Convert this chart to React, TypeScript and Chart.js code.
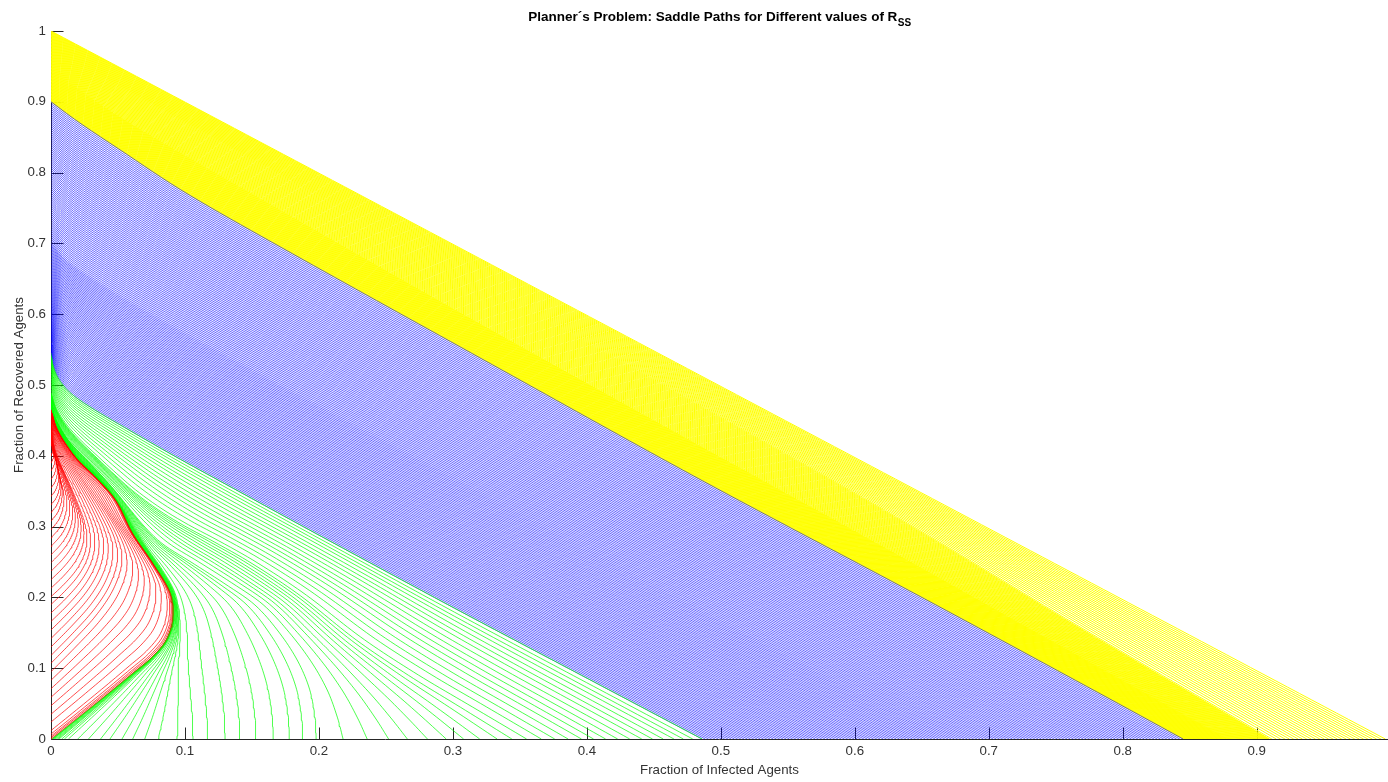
import React, { useEffect, useRef } from "react";
import { Chart, registerables } from "chart.js";

Chart.register(...registerables);

type Pt = [number, number];

// ---------------- texts ----------------
const TITLE_MAIN = "Planner´s Problem: Saddle Paths for Different values of R";
const TITLE_SUB = "SS";
const X_LABEL = "Fraction of Infected Agents";
const Y_LABEL = "Fraction of Recovered Agents";

// ---------------- axes ----------------
const X_TICKS = [0, 0.1, 0.2, 0.3, 0.4, 0.5, 0.6, 0.7, 0.8, 0.9];
const Y_TICKS = [0, 0.1, 0.2, 0.3, 0.4, 0.5, 0.6, 0.7, 0.8, 0.9, 1];
const X_MAX = 0.998;
const Y_MAX = 1;

// ---------------- data (points are [I infected, R recovered]) ----------------
// Separatrix: outermost red path / innermost green path
const envelope: Pt[] = [
  [0, 0], [0.024, 0.036], [0.045, 0.068], [0.061, 0.093], [0.075, 0.115], [0.086, 0.14],
  [0.091, 0.172], [0.089, 0.206], [0.076, 0.248], [0.061, 0.29], [0.048, 0.338],
  [0.033, 0.37], [0.02, 0.394], [0.0105, 0.418], [0.004, 0.44], [0, 0.465],
];

// RED paths: start on the R axis at these R values
const redStartR = [
  0, 0.002, 0.004, 0.007, 0.012, 0.024, 0.035, 0.047, 0.059, 0.071, 0.083, 0.095, 0.107,
  0.118, 0.13, 0.142, 0.154, 0.166, 0.178, 0.19, 0.201, 0.213, 0.225, 0.237, 0.249, 0.26,
  0.272, 0.284, 0.296, 0.308, 0.32, 0.331, 0.343, 0.355, 0.367, 0.379, 0.39, 0.4,
];
const redGuideKeys = [0, 0.1, 0.2, 0.3, 0.4];
const redPath010: Pt[] = [
  [0, 0.1], [0.018, 0.135], [0.034, 0.168], [0.046, 0.2], [0.053, 0.23], [0.055, 0.255],
  [0.052, 0.28], [0.044, 0.31], [0.034, 0.34], [0.024, 0.368], [0.015, 0.393],
  [0.008, 0.415], [0.003, 0.435], [0, 0.455],
];
const redPath020: Pt[] = [
  [0, 0.2], [0.01, 0.218], [0.019, 0.238], [0.025, 0.26], [0.027, 0.283], [0.025, 0.307],
  [0.02, 0.333], [0.014, 0.36], [0.008, 0.385], [0.003, 0.41], [0, 0.44],
];
const redPath030: Pt[] = [
  [0, 0.3], [0.005, 0.312], [0.008, 0.327], [0.009, 0.345], [0.007, 0.365], [0.004, 0.39],
  [0.001, 0.41], [0, 0.43],
];
const redPath040: Pt[] = [[0, 0.4], [0.0015, 0.408], [0.0015, 0.416], [0, 0.425]];

// GREEN paths: start on the I axis at these I values
const greenStartI = [
  0.0005, 0.001, 0.0015, 0.002, 0.003, 0.004, 0.005, 0.006, 0.008, 0.01, 0.013, 0.02, 0.028,
  0.037, 0.044, 0.053, 0.061, 0.07, 0.08, 0.094, 0.106, 0.117, 0.13, 0.141, 0.153, 0.166,
  0.178, 0.188, 0.198, 0.218, 0.236, 0.252, 0.266, 0.281, 0.295, 0.308, 0.32, 0.333, 0.344,
  0.355, 0.366, 0.376, 0.386, 0.396, 0.405, 0.414, 0.423, 0.432, 0.441, 0.449, 0.457, 0.465,
  0.472, 0.479, 0.486,
];
const greenGuideKeys = [0, 0.1, 0.2, 0.35, 0.486];
const greenPath100: Pt[] = [
  [0.1, 0], [0.0995, 0.03], [0.098, 0.07], [0.097, 0.11], [0.097, 0.15], [0.096, 0.18],
  [0.092, 0.21], [0.083, 0.24], [0.072, 0.27], [0.062, 0.3], [0.052, 0.33], [0.04, 0.36],
  [0.028, 0.385], [0.017, 0.407], [0.009, 0.428], [0.003, 0.45], [0, 0.472],
];
const greenPath200: Pt[] = [
  [0.2, 0], [0.199, 0.03], [0.195, 0.07], [0.186, 0.11], [0.172, 0.15], [0.153, 0.19],
  [0.13, 0.22], [0.105, 0.25], [0.084, 0.275], [0.07, 0.3], [0.058, 0.327], [0.046, 0.355],
  [0.035, 0.378], [0.024, 0.4], [0.014, 0.42], [0.007, 0.44], [0.002, 0.46], [0, 0.48],
];
const greenPath350: Pt[] = [
  [0.35, 0], [0.31, 0.045], [0.27, 0.09], [0.23, 0.14], [0.186, 0.205], [0.15, 0.25],
  [0.122, 0.28], [0.1, 0.302], [0.08, 0.325], [0.062, 0.35], [0.047, 0.375], [0.033, 0.4],
  [0.021, 0.422], [0.011, 0.444], [0.004, 0.466], [0, 0.49],
];
// shared edge between the green and the blue bands
const greenBlueEdge: Pt[] = [
  [0.486, 0], [0.4, 0.086], [0.3, 0.186], [0.2, 0.288], [0.14, 0.35], [0.09, 0.402],
  [0.055, 0.44], [0.03, 0.468], [0.015, 0.488], [0.006, 0.508], [0.002, 0.525], [0, 0.545],
];

// BLUE paths: a dense band of paths between these edges
const blueLineCount = 150;
const blueGuideKeys = [0, 0.5, 1];
const bluePathMid: Pt[] = [
  [0.666, 0], [0.5, 0.166], [0.35, 0.318], [0.2, 0.47], [0.12, 0.552], [0.07, 0.605],
  [0.035, 0.645], [0.012, 0.675], [0, 0.7],
];
// shared edge between the blue and the yellow bands
const blueYellowEdge: Pt[] = [
  [0.845, 0], [0.784, 0.063], [0.65, 0.2], [0.484, 0.367], [0.33, 0.528], [0.173, 0.693],
  [0.1, 0.772], [0.05, 0.834], [0.02, 0.872], [0, 0.9],
];

// YELLOW paths: steady states R_ss from 0.90 to 1.00
const yellowRssFirst = 0.9;
const yellowRssLast = 1.0;
const yellowLineCount = 121;
const yellowGuideKeys = [0.9, 0.945, 0.978, 1.0];
const yellowPath094: Pt[] = [
  [0.878, 0], [0.75, 0.135], [0.634, 0.258], [0.45, 0.45], [0.3, 0.608], [0.15, 0.77],
  [0.05, 0.88], [0, 0.945],
];
const yellowPath097: Pt[] = [
  [0.91, 0], [0.77, 0.155], [0.634, 0.31], [0.45, 0.507], [0.3, 0.663], [0.15, 0.82],
  [0.05, 0.924], [0, 0.978],
];
const yellowPath100: Pt[] = [[0.996, 0], [0.5, 0.498], [0, 1]];

// ---------------- styles ----------------
const FONT = '"Liberation Sans", Arial, Helvetica, sans-serif';
const COLORS = { red: "#ff0000", green: "#00ff00", blue: "#0000ff", yellow: "#ffff00" };
const WIDTHS = { red: 0.7, green: 0.7, blue: 0.6, yellow: 1.0 };
const AXIS_COLOR = "#262626";
const TEXT_COLOR = "#333333";
const TICK_LEN = 12;
const SAMPLES = 110;

// ---------------- helpers ----------------
// smooth I as a function of R along a guide path (R increases along every path)
function sampleGuide(pts: Pt[], n: number): Pt[] {
  const R = pts.map((p) => p[1]);
  const I = pts.map((p) => p[0]);
  const m = pts.length;
  const tan: number[] = [];
  for (let k = 0; k < m; k++) {
    if (k === 0) tan.push((I[1] - I[0]) / (R[1] - R[0]));
    else if (k === m - 1) tan.push((I[m - 1] - I[m - 2]) / (R[m - 1] - R[m - 2]));
    else tan.push((I[k + 1] - I[k - 1]) / (R[k + 1] - R[k - 1]));
  }
  const out: Pt[] = [];
  let k = 0;
  for (let s = 0; s < n; s++) {
    const r = R[0] + ((R[m - 1] - R[0]) * s) / (n - 1);
    while (k < m - 2 && r > R[k + 1]) k++;
    const h = R[k + 1] - R[k];
    const u = Math.min(1, Math.max(0, (r - R[k]) / h));
    const h00 = 2 * u * u * u - 3 * u * u + 1;
    const h10 = u * u * u - 2 * u * u + u;
    const h01 = -2 * u * u * u + 3 * u * u;
    const h11 = u * u * u - u * u;
    const v = h00 * I[k] + h10 * h * tan[k] + h01 * I[k + 1] + h11 * h * tan[k + 1];
    out.push([Math.max(0, v), r]);
  }
  return out;
}

function family(keys: number[], guides: Pt[][], values: number[]): Pt[][] {
  const rs = guides.map((g) => sampleGuide(g, SAMPLES));
  return values.map((v) => {
    let i = 0;
    while (i < keys.length - 2 && v > keys[i + 1]) i++;
    const w = Math.min(1, Math.max(0, (v - keys[i]) / (keys[i + 1] - keys[i])));
    return rs[i].map((p, m) => [p[0] * (1 - w) + rs[i + 1][m][0] * w, p[1] * (1 - w) + rs[i + 1][m][1] * w] as Pt);
  });
}

function buildDatasets() {
  const blueKeys: number[] = [];
  for (let i = 0; i < blueLineCount; i++) blueKeys.push(i / (blueLineCount - 1));
  const yellowKeys: number[] = [];
  for (let i = 0; i < yellowLineCount; i++)
    yellowKeys.push(yellowRssFirst + ((yellowRssLast - yellowRssFirst) * i) / (yellowLineCount - 1));

  const groups: { color: string; width: number; curves: Pt[][] }[] = [
    {
      color: COLORS.red, width: WIDTHS.red,
      curves: family(redGuideKeys, [envelope, redPath010, redPath020, redPath030, redPath040], redStartR),
    },
    {
      color: COLORS.green, width: WIDTHS.green,
      curves: family(greenGuideKeys, [envelope, greenPath100, greenPath200, greenPath350, greenBlueEdge], greenStartI),
    },
    {
      color: COLORS.blue, width: WIDTHS.blue,
      curves: family(blueGuideKeys, [greenBlueEdge, bluePathMid, blueYellowEdge], blueKeys),
    },
    {
      color: COLORS.yellow, width: WIDTHS.yellow,
      curves: family(yellowGuideKeys, [blueYellowEdge, yellowPath094, yellowPath097, yellowPath100], yellowKeys),
    },
  ];
  const ds: any[] = [];
  for (const g of groups) {
    for (const c of g.curves) {
      ds.push({
        data: c.map(([x, y]) => ({ x, y })),
        showLine: true,
        borderColor: g.color,
        backgroundColor: g.color,
        borderWidth: g.width,
        pointRadius: 0,
        pointHoverRadius: 0,
        fill: false,
        tension: 0,
        parsing: false,
        normalized: true,
      });
    }
  }
  return ds;
}

const fmt = (v: number) => (v === 0 ? "0" : v === 1 ? "1" : v.toFixed(1));

const decor = {
  id: "decor",
  beforeDatasetsDraw(chart: any) {
    const { ctx, chartArea, scales } = chart;
    const { left, right, top, bottom } = chartArea;
    const ax = Math.round(left) + 0.5;
    const ay = Math.round(bottom) + 0.5;
    ctx.save();
    ctx.strokeStyle = AXIS_COLOR;
    ctx.lineWidth = 1;
    ctx.beginPath();
    ctx.moveTo(ax, top);
    ctx.lineTo(ax, ay);
    ctx.lineTo(right, ay);
    for (const v of X_TICKS) {
      const px = Math.round(scales.x.getPixelForValue(v)) + 0.5;
      ctx.moveTo(px, ay);
      ctx.lineTo(px, ay - TICK_LEN);
    }
    for (const v of Y_TICKS) {
      const py = Math.round(scales.y.getPixelForValue(v)) + 0.5;
      ctx.moveTo(ax, py);
      ctx.lineTo(ax + TICK_LEN, py);
    }
    ctx.stroke();
    ctx.restore();
  },
  afterDraw(chart: any) {
    const { ctx, chartArea } = chart;
    const mainFont = `bold 13.5px ${FONT}`;
    const subFont = `bold 10px ${FONT}`;
    ctx.save();
    ctx.fillStyle = "#000";
    ctx.textAlign = "left";
    ctx.textBaseline = "alphabetic";
    ctx.font = mainFont;
    const w1 = ctx.measureText(TITLE_MAIN).width;
    ctx.font = subFont;
    const w2 = ctx.measureText(TITLE_SUB).width;
    const cx = (chartArea.left + chartArea.right) / 2;
    const x0 = cx - (w1 + w2) / 2;
    ctx.font = mainFont;
    ctx.fillText(TITLE_MAIN, x0, 21);
    ctx.font = subFont;
    ctx.fillText(TITLE_SUB, x0 + w1 + 0.5, 26);
    ctx.restore();
  },
};

export default function App() {
  const ref = useRef<HTMLCanvasElement>(null);
  useEffect(() => {
    const canvas = ref.current;
    if (!canvas) return;
    const chart = new Chart(canvas, {
      type: "scatter",
      data: { datasets: buildDatasets() },
      options: {
        animation: false,
        responsive: false,
        devicePixelRatio: 1,
        events: [],
        layout: { padding: { left: 0, right: 0, top: 31, bottom: 0 } },
        plugins: { legend: { display: false }, tooltip: { enabled: false }, title: { display: false } },
        scales: {
          x: {
            type: "linear",
            min: 0,
            max: X_MAX,
            afterFit: (s: any) => {
              s.height = 43;
              s.paddingLeft = 0;
              s.paddingRight = 0;
            },
            afterBuildTicks: (s: any) => {
              s.ticks = X_TICKS.map((v) => ({ value: v }));
            },
            ticks: {
              callback: (v: any) => fmt(Number(v)),
              font: { family: FONT, size: 13.3 },
              color: TEXT_COLOR,
              padding: 4,
              maxRotation: 0,
              autoSkip: false,
              includeBounds: false,
            },
            grid: { display: false, drawTicks: false },
            border: { display: false },
            title: {
              display: true,
              text: X_LABEL,
              color: TEXT_COLOR,
              font: { family: FONT, size: 13.3 },
              padding: { top: 0, bottom: 4 },
            },
          },
          y: {
            type: "linear",
            min: 0,
            max: Y_MAX,
            afterFit: (s: any) => {
              s.width = 51;
              s.paddingTop = 0;
              s.paddingBottom = 0;
            },
            afterBuildTicks: (s: any) => {
              s.ticks = Y_TICKS.map((v) => ({ value: v }));
            },
            ticks: {
              callback: (v: any) => fmt(Number(v)),
              font: { family: FONT, size: 13.3 },
              color: TEXT_COLOR,
              padding: 5,
              autoSkip: false,
              includeBounds: false,
            },
            grid: { display: false, drawTicks: false },
            border: { display: false },
            title: {
              display: true,
              text: Y_LABEL,
              color: TEXT_COLOR,
              font: { family: FONT, size: 13.3 },
              padding: { top: 11, bottom: 0 },
            },
          },
        },
      } as any,
      plugins: [decor],
    });
    return () => chart.destroy();
  }, []);

  return (
    <div style={{ position: "fixed", left: 0, top: 0, width: 1388, height: 782, background: "#fff" }}>
      <canvas ref={ref} width={1388} height={782} style={{ display: "block" }} />
    </div>
  );
}
